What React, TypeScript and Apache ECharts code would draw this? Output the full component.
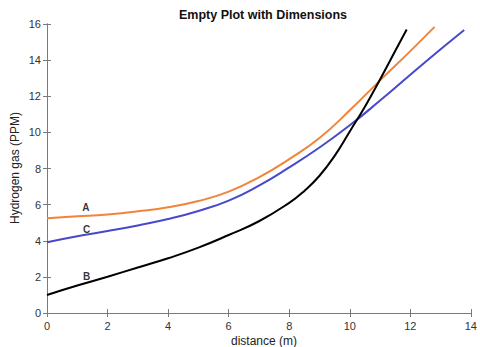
import React, { useEffect, useRef } from "react";
import * as echarts from "echarts";

const xTicks = [0, 2, 4, 6, 8, 10, 12, 14];
const yTicks = [0, 2, 4, 6, 8, 10, 12, 14, 16];

const xA = [0, 1, 2, 3, 4, 5, 6, 7, 8, 9, 10, 11, 12, 12.8];
const yA = [5.25, 5.35, 5.46, 5.63, 5.85, 6.2, 6.72, 7.51, 8.52, 9.69, 11.22, 12.88, 14.5, 15.84];

const xC = [0, 1, 2, 3, 4, 5, 6, 7, 8, 9, 10, 11, 12, 13, 13.78];
const yC = [3.92, 4.25, 4.54, 4.85, 5.2, 5.65, 6.22, 7.05, 8.06, 9.16, 10.39, 11.76, 13.19, 14.6, 15.67];

const xB = [0, 1, 2, 3, 4, 5, 6, 7, 8, 8.5, 9, 9.5, 10, 10.5, 11, 11.5, 11.88];
const yB = [1.0, 1.52, 2.01, 2.52, 3.03, 3.62, 4.32, 5.08, 6.1, 6.76, 7.6, 8.7, 10.05, 11.42, 12.93, 14.5, 15.7];

const labelNames = ["A", "C", "B"];
const labelX = [1.28, 1.31, 1.31];
const labelY = [5.85, 4.63, 2.01];

const zip = (xs: number[], ys: number[]) => xs.map((x, i) => [x, ys[i]]);

export default function App() {
  const ref = useRef<HTMLDivElement>(null);
  useEffect(() => {
    if (!ref.current) return;
    const chart = echarts.init(ref.current, undefined, { renderer: "svg" });
    const font = "Liberation Sans, Arial, sans-serif";
    const axisColor = "#7a7a7a";
    const grid = { left: 47, top: 24, width: 434, height: 289 };
    const baseX = {
      type: "value",
      min: xTicks[0],
      max: xTicks[xTicks.length - 1],
      interval: 2,
      axisLine: { show: true, lineStyle: { color: axisColor, width: 1 } },
      axisTick: { show: true, inside: true, length: 4, lineStyle: { color: axisColor } },
      splitLine: { show: false },
    };
    const baseY = {
      type: "value",
      min: yTicks[0],
      max: yTicks[yTicks.length - 1],
      interval: 2,
      axisLine: { show: true, lineStyle: { color: axisColor, width: 1 } },
      axisTick: { show: true, inside: true, length: 4, lineStyle: { color: axisColor } },
      splitLine: { show: false },
    };
    const lineBase = { type: "line", smooth: 0.5, showSymbol: false };
    chart.setOption({
      animation: false,
      backgroundColor: "#ffffff",
      grid,
      xAxis: [
        {
          ...baseX,
          position: "bottom",
          axisLabel: { show: true, color: "#333", fontSize: 11, fontFamily: font, margin: 7 },
        },
        { ...baseX, position: "top", axisLabel: { show: false } },
      ],
      yAxis: [
        {
          ...baseY,
          position: "left",
          axisLabel: { show: true, color: "#333", fontSize: 11, fontFamily: font, margin: 6 },
        },
        { ...baseY, position: "right", axisLabel: { show: false } },
      ],
      graphic: [
        {
          type: "text",
          x: 263,
          y: 15,
          style: {
            text: "Empty Plot with Dimensions",
            font: "bold 12.5px " + font,
            fill: "#111",
            textAlign: "center",
            textVerticalAlign: "middle",
          },
        },
        {
          type: "text",
          x: 264,
          y: 341,
          style: {
            text: "distance (m)",
            font: "12px " + font,
            fill: "#222",
            textAlign: "center",
            textVerticalAlign: "middle",
          },
        },
        {
          type: "text",
          x: 15,
          y: 168,
          rotation: Math.PI / 2,
          style: {
            text: "Hydrogen gas (PPM)",
            font: "12px " + font,
            fill: "#222",
            textAlign: "center",
            textVerticalAlign: "middle",
          },
        },
      ],
      series: [
        {
          ...lineBase,
          data: zip(xA, yA),
          lineStyle: { color: "#F0843C", width: 2 },
          itemStyle: { color: "#F0843C" },
        },
        {
          ...lineBase,
          data: zip(xC, yC),
          lineStyle: { color: "#4848CC", width: 2 },
          itemStyle: { color: "#4848CC" },
        },
        {
          ...lineBase,
          data: zip(xB, yB),
          lineStyle: { color: "#000000", width: 2 },
          itemStyle: { color: "#000000" },
        },
        {
          type: "scatter",
          symbolSize: 0,
          data: labelNames.map((n, i) => ({ name: n, value: [labelX[i], labelY[i]] })),
          label: {
            show: true,
            position: "inside",
            formatter: "{b}",
            color: "#000",
            fontWeight: "bold",
            fontSize: 10,
            fontFamily: font,
          },
        },
      ],
    });
    return () => chart.dispose();
  }, []);
  return (
    <div
      ref={ref}
      style={{ position: "fixed", left: 0, top: 0, width: 480, height: 347 }}
    />
  );
}
